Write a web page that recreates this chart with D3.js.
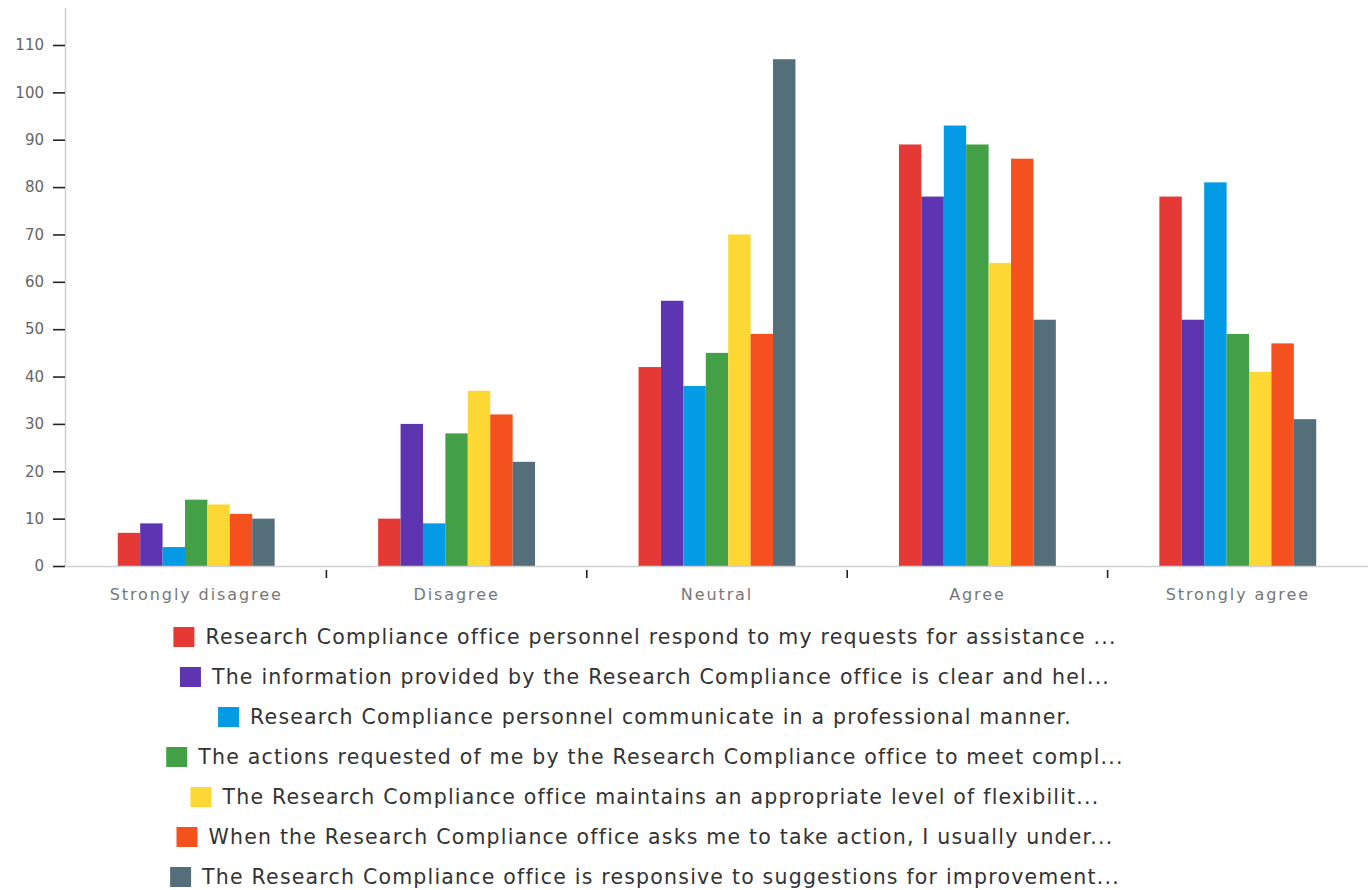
<!DOCTYPE html>
<html><head><meta charset="utf-8">
<script src="https://cdn.jsdelivr.net/npm/d3@7"></script>
<style>body{margin:0;background:#fff}svg{display:block}</style>
</head><body>
<svg id="c" width="1372" height="890"></svg>
<script>
const categories = ["Strongly disagree","Disagree","Neutral","Agree","Strongly agree"];
const seriesNames = [
 "Research Compliance office personnel respond to my requests for assistance ...",
 "The information provided by the Research Compliance office is clear and hel...",
 "Research Compliance personnel communicate in a professional manner.",
 "The actions requested of me by the Research Compliance office to meet compl...",
 "The Research Compliance office maintains an appropriate level of flexibilit...",
 "When the Research Compliance office asks me to take action, I usually under...",
 "The Research Compliance office is responsive to suggestions for improvement..."
];
const colors = ["#e53935","#5e35b1","#039be5","#43a047","#fdd835","#f4511e","#546e7a"];
const s1 = [7,10,42,89,78];
const s2 = [9,30,56,78,52];
const s3 = [4,9,38,93,81];
const s4 = [14,28,45,89,49];
const s5 = [13,37,70,64,41];
const s6 = [11,32,49,86,47];
const s7 = [10,22,107,52,31];
const series = [s1,s2,s3,s4,s5,s6,s7];
const yTicks = [0,10,20,30,40,50,60,70,80,90,100,110];

(function(){
const svg = d3.select("#c");
const FONT = "'DejaVu Sans', sans-serif";
const mL = 66, mR = 1368, mT = 8, mB = 566;
const x = d3.scaleBand().domain(categories).range([mL,mR]);
const inner = d3.scaleBand().domain(d3.range(series.length)).range([0, x.bandwidth()]).paddingOuter(2.31);
const y = d3.scaleLinear().domain([0,110]).range([mB, 45]);

// y axis
svg.append("line").attr("x1",mL-0.5).attr("x2",mL-0.5).attr("y1",mT).attr("y2",mB).attr("stroke","#d0d0d0").attr("stroke-width",1.5);
const ya = svg.append("g").attr("transform",`translate(${mL-1},0)`).call(d3.axisLeft(y).tickValues(yTicks).tickSize(12).tickPadding(9));
ya.select(".domain").remove();
ya.selectAll(".tick line").attr("stroke","#222").attr("stroke-width",1.6);
ya.selectAll(".tick text").attr("fill","#666").attr("font-family",FONT).attr("font-size",15);

// bars
const g = svg.append("g");
series.forEach((s,i)=>{
  g.selectAll(null).data(s).enter().append("rect")
   .attr("x",(d,j)=>x(categories[j])+inner(i))
   .attr("width",inner.bandwidth())
   .attr("y",d=>y(d))
   .attr("height",d=>mB-y(d))
   .attr("fill",colors[i]);
});

// x axis
svg.append("line").attr("x1",mL).attr("x2",mR).attr("y1",mB+0.5).attr("y2",mB+0.5).attr("stroke","#d0d0d0").attr("stroke-width",1.5);
const sepTicks = categories.slice(1).map(c=>x(c));
svg.selectAll(null).data(sepTicks).enter().append("line")
  .attr("x1",d=>d).attr("x2",d=>d).attr("y1",mB+4).attr("y2",mB+12)
  .attr("stroke","#222").attr("stroke-width",1.6);
svg.selectAll(null).data(categories).enter().append("text")
  .attr("x",d=>x(d)+x.bandwidth()/2).attr("y",600)
  .attr("text-anchor","middle").attr("fill","#777")
  .attr("font-family",FONT).attr("font-size",16).attr("letter-spacing","1.9px").text(d=>d);

// legend
const cx = 645;
const legend = svg.append("g");
seriesNames.forEach((n,i)=>{
  const row = legend.append("g");
  const yy = 637 + i*40;
  const t = row.append("text").attr("y",yy).attr("dy","0.36em").attr("fill","#333")
    .attr("font-family",FONT).attr("font-size",20.5).attr("letter-spacing","1.2px").text(n);
  const w = t.node().getComputedTextLength();
  const total = 21 + 11 + w;
  const x0 = cx - total/2;
  row.append("rect").attr("x",x0).attr("y",yy-10).attr("width",21).attr("height",20).attr("fill",colors[i]);
  t.attr("x",x0+32);
});
})();
</script>
</body></html>
